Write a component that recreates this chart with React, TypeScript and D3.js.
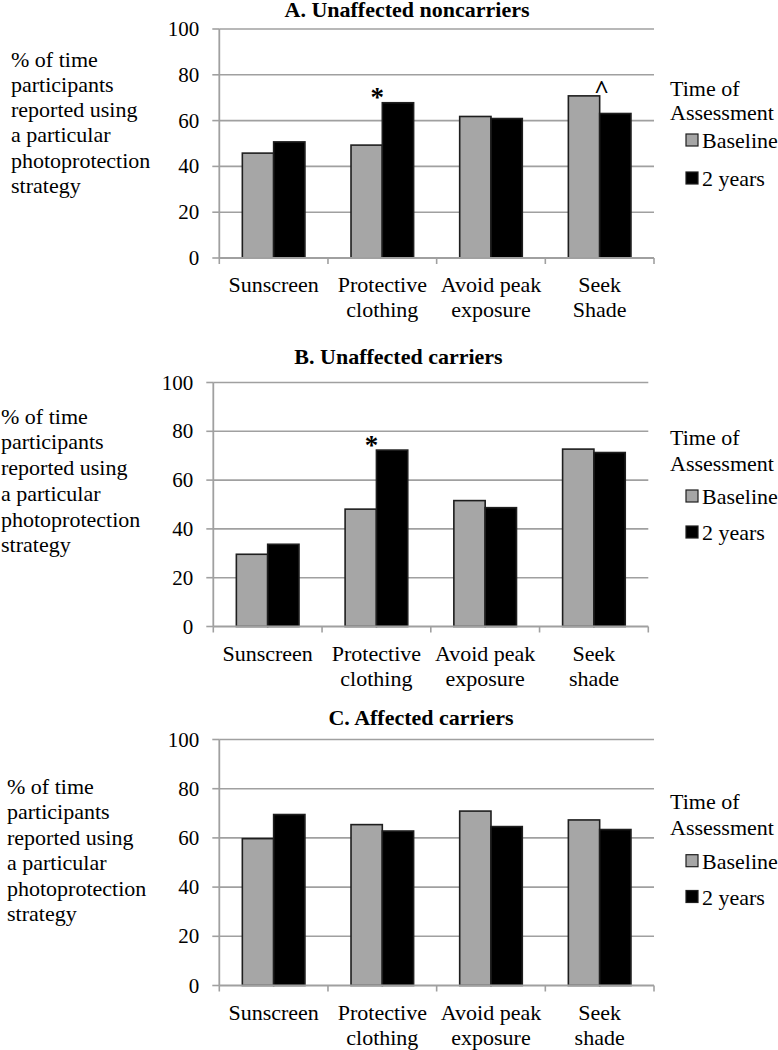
import React from "react";
import * as d3 from "d3";

// ---------- data ----------
const categoryLabelsA: string[][] = [["Sunscreen"], ["Protective", "clothing"], ["Avoid peak", "exposure"], ["Seek", "Shade"]];
const categoryLabelsBC: string[][] = [["Sunscreen"], ["Protective", "clothing"], ["Avoid peak", "exposure"], ["Seek", "shade"]];
const categories = ["Sunscreen", "Protective clothing", "Avoid peak exposure", "Seek shade"];
const seriesNames = ["Baseline", "2 years"];

const baselineA = [45.8, 49.3, 61.8, 70.8];
const twoYearsA = [50.7, 67.8, 60.9, 63.1];
const baselineB = [29.6, 48.1, 51.6, 72.7];
const twoYearsB = [33.7, 72.3, 48.7, 71.3];
const baselineC = [59.7, 65.4, 70.9, 67.3];
const twoYearsC = [69.5, 62.8, 64.6, 63.4];

const yTicks = [0, 20, 40, 60, 80, 100];
const yTitleLines = ["% of time", "participants", "reported using", "a particular", "photoprotection", "strategy"];
const legendTitleLines = ["Time of", "Assessment"];

const titles = ["A. Unaffected noncarriers", "B. Unaffected carriers", "C. Affected carriers"];
// significance markers: category index + symbol
const markersA = [{ cat: 1, sym: "*" }, { cat: 3, sym: "^" }];
const markersB = [{ cat: 1, sym: "*" }];
const markersC: { cat: number; sym: string }[] = [];

// ---------- layout ----------
const panels = [
  {
    title: titles[0], titleX: 407, titleY: 17,
    x0: 219.3, x1: 654, yTop: 29, y0: 258,
    labels: categoryLabelsA, base: baselineA, two: twoYearsA, markers: markersA,
    yTitleX: 11, yTitleY: 66.5, yTitleStep: 25.3,
    legendY: [96, 120, 148, 186],
  },
  {
    title: titles[1], titleX: 398.5, titleY: 364,
    x0: 213.3, x1: 648.3, yTop: 382.5, y0: 626.5,
    labels: categoryLabelsBC, base: baselineB, two: twoYearsB, markers: markersB,
    yTitleX: 1, yTitleY: 423.7, yTitleStep: 25.7,
    legendY: [445, 471, 504, 540],
  },
  {
    title: titles[2], titleX: 421, titleY: 725,
    x0: 219.3, x1: 654, yTop: 739.5, y0: 985.5,
    labels: categoryLabelsBC, base: baselineC, two: twoYearsC, markers: markersC,
    yTitleX: 7, yTitleY: 793.7, yTitleStep: 25.5,
    legendY: [808.7, 835, 868.7, 904.5],
  },
];

const FONT = "Liberation Serif";
const GRID = "#a0a0a0";
const GRAY = "#a6a6a6";
const OUTLINE = "#1e1e1e";

function Panel({ p }: { p: (typeof panels)[number] }) {
  const x = d3.scaleBand<string>().domain(categories).range([p.x0, p.x1]).paddingInner(0).paddingOuter(0);
  const xs = d3.scaleBand<string>().domain(seriesNames).range([0, x.bandwidth()]).paddingInner(0).paddingOuter(0.736);
  const y = d3.scaleLinear().domain([0, 100]).range([p.y0, p.yTop]);
  const boundaries = d3.range(categories.length + 1).map((i) => p.x0 + i * x.step());
  const seriesVals = [p.base, p.two];

  return (
    <g fontFamily={FONT}>
      <text x={p.titleX} y={p.titleY} textAnchor="middle" fontFamily={FONT} fontWeight="bold" fontSize={22}>
        {p.title}
      </text>
      {/* gridlines */}
      {yTicks.filter((t) => t > 0).map((t) => (
        <line key={"g" + t} x1={p.x0} x2={p.x1} y1={y(t)} y2={y(t)} stroke={GRID} strokeWidth={1.6} />
      ))}
      {/* y axis */}
      <line x1={p.x0} x2={p.x0} y1={y(100)} y2={y(0)} stroke={GRID} strokeWidth={1.8} />
      {yTicks.map((t) => (
        <g key={"t" + t}>
          <line x1={p.x0 - 7} x2={p.x0} y1={y(t)} y2={y(t)} stroke={GRID} strokeWidth={1.6} />
          <text x={p.x0 - 20} y={y(t) + 7} textAnchor="end" fontFamily={FONT} fontSize={21}>
            {t}
          </text>
        </g>
      ))}
      {/* bars */}
      {categories.map((c, ci) =>
        seriesNames.map((s, si) => {
          const v = seriesVals[si][ci];
          const bx = (x(c) ?? 0) + (xs(s) ?? 0);
          return (
            <rect
              key={c + s}
              x={bx}
              y={y(v)}
              width={xs.bandwidth()}
              height={y(0) - y(v)}
              fill={si === 0 ? GRAY : "#000"}
              stroke={OUTLINE}
              strokeWidth={1.6}
            />
          );
        })
      )}
      {/* x axis */}
      <line x1={p.x0} x2={p.x1} y1={y(0)} y2={y(0)} stroke={GRID} strokeWidth={1.8} />
      {boundaries.map((bx, i) => (
        <line key={"xt" + i} x1={bx} x2={bx} y1={y(0)} y2={y(0) + 6} stroke={GRID} strokeWidth={1.6} />
      ))}
      {categories.map((c, ci) =>
        p.labels[ci].map((ln, li) => (
          <text
            key={c + li}
            x={(x(c) ?? 0) + x.bandwidth() / 2}
            y={y(0) + 34 + li * 25}
            textAnchor="middle"
            fontFamily={FONT}
            fontSize={22}
          >
            {ln}
          </text>
        ))
      )}
      {/* significance markers */}
      {p.markers.map((m, i) => {
        const c = categories[m.cat];
        const cx = (x(c) ?? 0) + x.bandwidth() / 2;
        const top = y(Math.max(p.base[m.cat], p.two[m.cat]));
        return m.sym === "*" ? (
          <text key={"m" + i} x={cx - 5} y={top + 3.5} textAnchor="middle" fontFamily={FONT} fontWeight="bold" fontSize={27}>
            *
          </text>
        ) : (
          <text key={"m" + i} x={cx + 2} y={top + 2.5} textAnchor="middle" fontFamily={FONT} fontWeight="bold" fontSize={26}>
            ^
          </text>
        );
      })}
      {/* y title */}
      {yTitleLines.map((ln, i) => (
        <text key={"yt" + i} x={p.yTitleX} y={p.yTitleY + i * p.yTitleStep} fontFamily={FONT} fontSize={22}>
          {ln}
        </text>
      ))}
      {/* legend */}
      {legendTitleLines.map((ln, i) => (
        <text key={"lt" + i} x={670} y={p.legendY[i]} fontFamily={FONT} fontSize={22}>
          {ln}
        </text>
      ))}
      {seriesNames.map((s, si) => (
        <g key={"lg" + s}>
          <rect
            x={686}
            y={p.legendY[2 + si] - 14}
            width={12}
            height={12}
            fill={si === 0 ? GRAY : "#000"}
            stroke={OUTLINE}
            strokeWidth={1.2}
          />
          <text x={702} y={p.legendY[2 + si]} fontFamily={FONT} fontSize={22}>
            {s}
          </text>
        </g>
      ))}
    </g>
  );
}

export default function App() {
  return (
    <svg
      width={778}
      height={1050}
      style={{ position: "absolute", left: 0, top: 0, background: "#fff" }}
      xmlns="http://www.w3.org/2000/svg"
    >
      <rect x={0} y={0} width={778} height={1050} fill="#fff" />
      {panels.map((p, i) => (
        <Panel key={i} p={p} />
      ))}
    </svg>
  );
}
